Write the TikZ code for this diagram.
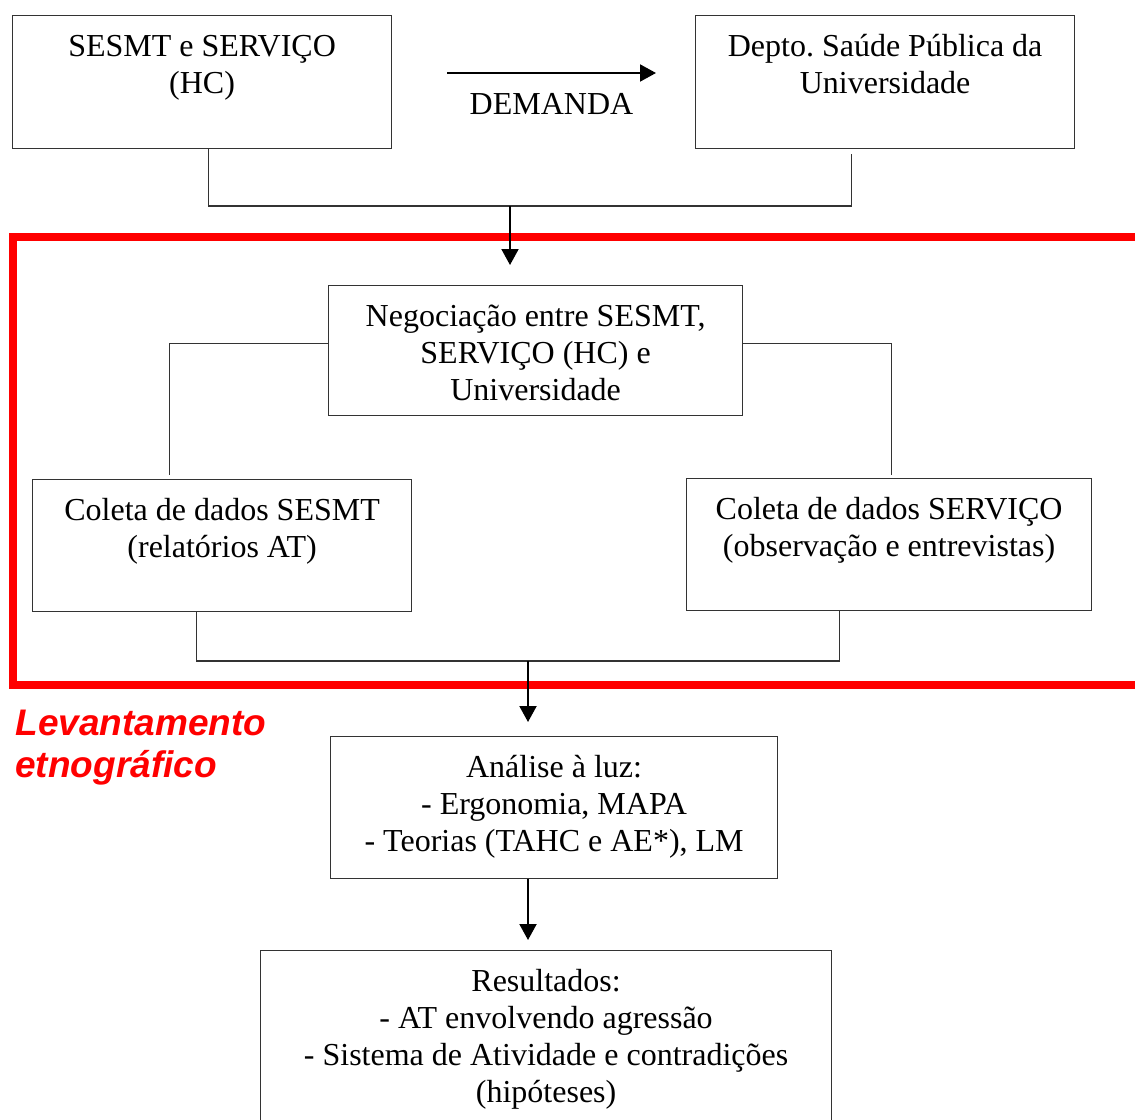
\documentclass[tikz,border=0pt]{standalone}
\usepackage{fontspec}
\setmainfont{Liberation Serif}
\newfontfamily\sansfont{Liberation Sans}
\usetikzlibrary{arrows.meta}
\frenchspacing
\newcommand{\boxtxt}[3]{\begin{minipage}[t][#2][t]{#1}\centering\vspace*{7.5pt}\strut#3\end{minipage}}

\begin{document}
\begin{tikzpicture}[x=0.5pt,y=-0.5pt,
  box/.style={draw=black!80,line width=0.6pt,inner sep=0pt,anchor=north west,font=\fontsize{16}{18.5}\selectfont},
  link/.style={draw=black!80,line width=0.6pt},
  arr/.style={line width=1pt,-{Triangle[length=8pt,width=8.5pt]}}]
\clip (0,0) rectangle (1135,1119);

% red frame
\draw[red,line width=4pt] (12.5,237) rectangle (1160,685);
\node[anchor=north west,inner sep=0pt,align=left,text=red,font=\sansfont\bfseries\itshape\fontsize{18.5}{21}\selectfont] (levant) at (15,710) {Levantamento\\etnográfico};

% boxes
\node[box] (sesmt) at (12,15) {\boxtxt{189.5pt}{66.5pt}{SESMT e SERVIÇO\\(HC)}};
\node[box] (depto) at (695,15) {\boxtxt{189.5pt}{66.5pt}{Depto. Saúde Pública da\\Universidade}};
\node[box] (nego) at (328,285) {\boxtxt{207pt}{65pt}{Negociação entre SESMT,\\SERVIÇO (HC) e\\Universidade}};
\node[box] (colsesmt) at (32,479) {\boxtxt{189.5pt}{66pt}{Coleta de dados SESMT\\(relatórios AT)}};
\node[box] (colserv) at (686,478) {\boxtxt{202.5pt}{66pt}{Coleta de dados SERVIÇO\\(observação e entrevistas)}};
\node[box] (analise) at (330,736) {\boxtxt{223.5pt}{71pt}{Análise à luz:\\- Ergonomia, MAPA\\- Teorias (TAHC e AE*), LM}};
\node[box] (result) at (260,950) {\boxtxt{285.5pt}{100pt}{Resultados:\\- AT envolvendo agressão\\- Sistema de Atividade e contradições\\(hipóteses)}};

% demand arrow
\coordinate (dl) at (447,73);
\coordinate (dr) at (656,73);
\draw[arr] (dl) -- node[below=9.5pt,inner sep=0pt,font=\fontsize{16}{18.5}\selectfont] (demanda) {DEMANDA} (dr);

% connectors
\coordinate (j1) at (510,206);
\coordinate (a1) at (510,265);
\draw[link] ([xshift=3.25pt]sesmt.south) |- (j1) -| ([shift={(-33.5,5)}]depto.south);
\draw[arr] (j1) -- (a1);

\draw[link] ([yshift=3.5pt]nego.west) -| ([shift={(-52.5,-4)}]colsesmt.north);
\draw[link] ([yshift=3.5pt]nego.east) -| ([shift={(2.5,-3)}]colserv.north);

\coordinate (j2) at (528,661);
\coordinate (a2) at (528,722);
\draw[link] ([xshift=-12.75pt]colsesmt.south) |- (j2) -| ([xshift=-24.75pt]colserv.south);
\draw[arr] (j2) -- (a2);

\coordinate (a3) at (528,940);
\draw[arr] (analise.south -| a3) -- (a3);
\end{tikzpicture}
\end{document}
